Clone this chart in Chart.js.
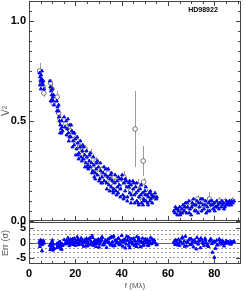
<!DOCTYPE html>
<html>
<head>
<meta charset="utf-8">
<script src="https://cdn.jsdelivr.net/npm/chart.js@4"></script>
<style>
  body { margin: 0; background: #fff; }
  #wrap { position: relative; width: 246px; height: 291px; }
  canvas { position: absolute; left: 0; }
</style>
</head>
<body>
<div id="wrap">
  <canvas id="topChart" width="246" height="230" style="top:0"></canvas>
  <canvas id="errChart" width="246" height="70" style="top:221px"></canvas>
</div>
<script>
// ===============================
// DATA
// ===============================
const starName = "HD98922";

// spatial frequency (Mlambda) of model points, also used for residuals
const modelX = [
  4.5,4.8,5.0,5.2,5.5,5.8,6.0,6.2,6.5,
  9.0,9.2,9.5,9.8,10.0,10.3,10.5,10.8,
  12.0,12.3,12.6,12.9,13.2,13.5,13.8,14.0,14.3,
  16,16.5,17,17.5,18,18.5,19,19.5,20,20.5,21,21.5,22,22.5,23,23.5,24,24.5,25,25.5,
  26,26.5,27,27.5,28,28.5,29,29.5,30,30.5,31,31.5,32,32.5,33,33.5,34,34.5,35,35.5,
  36,36.5,37,37.5,38,38.5,39,39.5,40,40.5,41,41.5,42,42.5,43,43.5,44,44.5,45,45.5,
  46,46.5,47,47.5,48,48.5,49,49.5,50,50.5,51,51.5,52,52.5,53,53.5,54,55,
  17.2,19.2,21.2,23.2,25.2,26.2,28.2,29.2,31.2,33.2,35.2,36.2,38.2,39.2,41.2,42.2,
  43.2,44.2,45.2,46.2,47.2,48.2,49.2,50.2,51.2,52.2,
  62.5,63,63.5,64,64.5,65,65.5,66,66.5,67,67.5,68,68.5,69,69.5,70,70.5,71,71.5,72,
  72.5,73,73.5,74,74.5,75,75.5,76,76.5,77,77.5,78,78.5,79,79.5,80,80.5,81,81.5,82,
  82.5,83,83.5,84,84.5,85,85.5,86,86.5,87,87.5,88,
  15.2,15.6,16.2,16.8,17.4,18.2,18.8,19.6,20.2,20.8,21.4,22.2,22.8,23.6,24.2,24.8,
  25.6,26.4,27.2,27.8,28.6,29.4,30.2,30.8,31.6,32.4,33.6,34.2,34.8,35.6,36.4,37.2,
  37.8,38.6,39.4,40.2,40.8,41.6,42.4,43.4,44.0,44.8,45.6,46.4,47.4,48.4,49.4,50.4,
  51.4,52.4,53.2,54.4,55.2,
  4.7,5.1,5.6,9.4,10.1,10.6,12.1,12.8,13.4,14.1,14.5,
  63.2,64.2,65.2,66.2,67.2,68.2,69.2,70.2,71.2,72.2,73.2,74.2,75.2,76.2,77.2,78.2,
  79.2,80.2,81.2,82.2,83.2,84.2,85.2,86.2,87.2,88.5
];
const modelV2 = [
  .74,.72,.70,.73,.71,.69,.68,.70,.66,
  .70,.67,.65,.63,.61,.62,.60,.58,
  .60,.57,.55,.52,.50,.48,.46,.44,.47,
  .50,.46,.44,.48,.42,.45,.40,.38,.41,.36,.39,.34,.37,.32,.35,.31,.33,.29,.32,.28,
  .30,.27,.29,.25,.28,.24,.26,.23,.27,.21,.25,.22,.24,.20,.23,.19,.22,.18,.21,.17,
  .20,.16,.19,.15,.20,.14,.18,.16,.21,.13,.19,.15,.20,.12,.17,.14,.18,.11,.16,.13,
  .17,.10,.15,.12,.16,.09,.14,.11,.15,.10,.13,.12,.14,.11,.13,.12,.12,.11,
  .40,.44,.33,.38,.27,.33,.22,.29,.19,.26,.23,.15,.17,.21,.12,.17,
  .19,.13,.19,.14,.09,.13,.08,.13,.09,.10,
  .05,.04,.06,.03,.05,.07,.04,.06,.08,.05,.09,.04,.07,.10,.06,.03,.09,.11,.05,.08,
  .10,.04,.07,.09,.05,.11,.06,.08,.04,.07,.09,.05,.08,.10,.06,.09,.07,.10,.08,.06,
  .09,.07,.08,.09,.07,.08,.09,.08,.10,.09,.10,.09,
  .52,.47,.43,.51,.42,.48,.37,.44,.33,.42,.31,.40,.30,.37,.27,.35,
  .26,.34,.24,.32,.21,.30,.20,.29,.19,.27,.16,.26,.15,.24,.14,.23,
  .13,.22,.12,.23,.11,.21,.10,.20,.09,.20,.09,.19,.08,.18,.10,.17,
  .08,.15,.09,.14,.12,
  .68,.66,.75,.60,.66,.63,.55,.58,.44,.50,.45,
  .07,.06,.03,.04,.07,.09,.04,.07,.08,.05,.09,.11,.08,.10,.05,.10,
  .08,.05,.07,.09,.10,.06,.10,.09,.08,.10
];

// observed visibilities with error bars
const obsX = [
  4.6,5.3,6.1,6.4,9.3,9.9,10.4,12.2,12.8,13.4,14.1,16.2,17.8,19.0,20.8,21.8,23.0,24.2,
  25.0,26.8,27.8,29.0,30.2,31.8,33.0,34.2,35.2,36.8,38.0,39.5,41.0,42.5,43.8,45.8,47.0,
  48.0,49.3,49.5,50.8,52.5,54.0,
  63.2,65.2,66.8,68.2,69.8,71.2,72.8,74.2,75.8,77.9,79.2,80.8,82.2,84.6,86.2,87.8
];
const obsV2 = [
  .75,.70,.67,.64,.69,.66,.59,.62,.54,.51,.49,.47,.45,.43,.40,.37,.33,.36,
  .30,.33,.26,.30,.24,.26,.21,.24,.19,.22,.16,.19,.22,.18,.15,.46,.18,
  .12,.30,.195,.14,.13,.12,
  .05,.04,.07,.05,.09,.07,.11,.06,.09,.11,.07,.08,.10,.097,.09,.10
];
const obsErr = [
  .04,.02,.02,.02,.02,.03,.02,.03,.02,.02,.02,.02,.03,.02,.03,.02,.03,.02,
  .02,.03,.02,.02,.03,.02,.03,.02,.03,.02,.02,.03,.03,.02,.02,.19,.03,
  .02,.075,.02,.02,.02,.02,
  .01,.01,.02,.02,.02,.02,.02,.02,.02,.035,.02,.02,.02,.02,.02,.02
];

// residuals in sigma, one per model point
const residual = [
  0.5,-0.3,1.0,0.2,-0.6,0.4,-0.2,0.8,0.0,
  -0.8,-2.2,-1.5,0.3,-1.0,-2.4,-0.4,-1.8,
  -1.6,-0.6,-1.1,0.2,-1.4,-0.5,-2.0,-0.9,-0.3,
  0.5,-0.2,0.9,0.3,1.2,-0.4,0.6,1.5,-0.8,0.2,
  1.0,-0.3,0.7,1.6,-0.5,0.4,1.1,-1.0,0.8,0.0,
  1.4,-0.6,0.3,1.8,-0.2,0.9,-1.2,0.5,1.3,-0.4,
  0.6,2.0,-0.7,0.2,1.1,-1.5,0.8,0.1,1.7,-0.3,
  0.4,2.3,-0.9,1.0,0.0,1.5,-0.6,0.7,2.5,-1.1,
  0.3,1.2,-0.4,0.9,1.9,-1.6,0.5,0.0,1.4,-0.8,
  0.6,2.1,-0.3,1.0,-1.3,0.4,1.6,-0.5,0.8,0.1,
  1.2,-0.9,0.5,1.8,-0.2,0.3,1.0,-0.6,
  0.7,-0.5,1.3,0.2,-1.0,1.6,0.4,-0.2,1.1,0.6,
  -0.7,1.9,0.3,-0.4,1.0,2.2,-0.9,0.5,1.5,-0.3,
  0.8,-1.2,0.2,1.3,-0.6,0.4,
  0.3,-0.5,0.8,0.0,1.2,-0.8,0.4,1.6,-0.3,0.6,
  2.2,-1.0,0.2,1.0,-0.6,1.4,0.5,-1.3,0.9,0.1,
  1.8,-0.4,0.7,-1.6,1.1,0.3,-0.9,1.5,0.0,-0.5,
  -1.2,0.6,1.3,-0.2,0.4,-4.8,-1.8,0.9,-0.7,1.2,
  0.3,-0.4,0.8,0.1,-0.2,0.6,0.0,0.4,-0.3,0.5,
  0.2,0.3,
  1.1,-0.4,0.6,1.7,-0.9,0.2,1.3,-0.2,0.8,2.0,
  -0.6,0.5,1.2,-1.1,0.3,1.5,-0.3,0.9,2.4,-0.8,
  0.1,1.0,-1.4,0.6,1.8,-0.5,0.4,1.3,-0.1,2.1,
  -1.0,0.7,0.0,1.6,-0.6,0.5,1.1,-1.7,0.9,0.2,
  1.4,-0.4,0.8,-1.2,1.7,0.3,-0.8,1.0,0.5,-0.3,
  1.2,0.1,-0.5,
  -1.2,0.7,-2.6,-0.5,0.9,-1.9,-0.2,-1.3,0.4,-2.1,-0.8,
  1.0,-0.7,0.5,1.9,-1.1,0.3,1.3,-0.4,0.8,-2.0,
  0.6,1.6,-0.2,0.9,-0.9,1.1,-3.1,0.4,-0.6,1.2,
  0.2,-1.0,0.7,0.3,-0.4,0.5
];

// axis ticks and reference lines
const freqTicks = [0, 20, 40, 60, 80];
const v2Ticks = [0, 0.5, 1.0];
const errTicks = [-5, 0, 5];
const errLines = [-4.5, -3, -1.5, 1.5, 3, 4.5];

const FONT = "'Liberation Sans', Arial, sans-serif";
const AXIS = "#444";

// stop Chart.js from adding room for the end tick labels
function noPad(s){
  s.paddingTop = 0; s.paddingBottom = 0;
  s.paddingLeft = 0; s.paddingRight = 0;
}


// ===============================
// PLUGINS
// ===============================
// box round the plot with inward ticks (IDL look)
const framePlugin = {
  id: "frame",
  afterDatasetsDraw(chart, args, opts){
    const ctx = chart.ctx;
    const a = chart.chartArea;
    const xs = chart.scales.x;
    const ys = chart.scales.y;
    ctx.save();
    ctx.strokeStyle = AXIS;
    ctx.lineWidth = 1;
    ctx.strokeRect(a.left + 0.5, a.top + 0.5, a.right - a.left - 1, a.bottom - a.top - 1);

    ctx.beginPath();
    for(let i = 0; i * opts.xMinor <= xs.max + 1e-9; i++){
      let v = i * opts.xMinor;
      let len = (Math.round(v * 1000) % Math.round(opts.xMajor * 1000) === 0) ? 5 : 3;
      let px = Math.round(xs.getPixelForValue(v)) + 0.5;
      if(opts.xBottom){ ctx.moveTo(px, a.bottom); ctx.lineTo(px, a.bottom - len); }
      if(opts.xTop){ ctx.moveTo(px, a.top); ctx.lineTo(px, a.top + len); }
    }
    let start = Math.ceil(ys.min / opts.yMinor - 1e-9);
    for(let i = start; i * opts.yMinor <= ys.max + 1e-9; i++){
      let v = i * opts.yMinor;
      let len = (Math.round(v * 1000) % Math.round(opts.yMajor * 1000) === 0) ? 5 : 3;
      let py = Math.round(ys.getPixelForValue(v)) + 0.5;
      ctx.moveTo(a.left, py); ctx.lineTo(a.left + len, py);
      ctx.moveTo(a.right, py); ctx.lineTo(a.right - len, py);
    }
    ctx.stroke();

    if(opts.label){
      ctx.fillStyle = "#000";
      ctx.font = "bold 7px " + FONT;
      ctx.textAlign = "center";
      ctx.textBaseline = "middle";
      ctx.fillText(opts.label, a.right - 38, a.top + 9);
    }
    ctx.restore();
  }
};

// vertical error bars for the observed points
const errorBarPlugin = {
  id: "errorBars",
  beforeDatasetsDraw(chart){
    const ctx = chart.ctx;
    const xs = chart.scales.x;
    const ys = chart.scales.y;
    ctx.save();
    ctx.strokeStyle = "#9a9a9a";
    ctx.lineWidth = 1;
    ctx.beginPath();
    for(let i = 0; i < obsX.length; i++){
      let px = Math.round(xs.getPixelForValue(obsX[i])) + 0.5;
      ctx.moveTo(px, ys.getPixelForValue(obsV2[i] - obsErr[i]));
      ctx.lineTo(px, ys.getPixelForValue(obsV2[i] + obsErr[i]));
    }
    ctx.stroke();
    ctx.restore();
  }
};

// dashed sigma lines + zero line in the residual panel
const refLinePlugin = {
  id: "refLines",
  beforeDatasetsDraw(chart){
    const ctx = chart.ctx;
    const a = chart.chartArea;
    const ys = chart.scales.y;
    ctx.save();
    ctx.lineWidth = 1;
    ctx.strokeStyle = "#9a9a9a";
    ctx.setLineDash([2, 2]);
    errLines.forEach(v => {
      let py = Math.round(ys.getPixelForValue(v)) + 0.5;
      ctx.beginPath();
      ctx.moveTo(a.left, py);
      ctx.lineTo(a.right, py);
      ctx.stroke();
    });
    ctx.setLineDash([]);
    ctx.strokeStyle = "#666";
    let p0 = Math.round(ys.getPixelForValue(0)) + 0.5;
    ctx.beginPath();
    ctx.moveTo(a.left, p0);
    ctx.lineTo(a.right, p0);
    ctx.stroke();
    ctx.restore();
  }
};


// ===============================
// TOP PANEL: V2 vs frequency
// ===============================
new Chart(document.getElementById("topChart").getContext("2d"), {
  type: "scatter",
  data: {
    datasets: [
      {
        label: "model",
        data: modelX.map((x, i) => ({ x: x, y: modelV2[i] })),
        pointStyle: "triangle",
        pointRadius: 1.8,
        backgroundColor: "#0000ff",
        borderColor: "#0000ff",
        borderWidth: 1,
        order: 0
      },
      {
        label: "observed",
        data: obsX.map((x, i) => ({ x: x, y: obsV2[i] })),
        pointStyle: "circle",
        pointRadius: 2.3,
        backgroundColor: "#ffffff",
        borderColor: "#555",
        borderWidth: 0.8,
        order: 1
      }
    ]
  },
  options: {
    responsive: false,
    animation: false,
    devicePixelRatio: 1,
    layout: { autoPadding: false, padding: { top: 1, right: 5, bottom: 9, left: 0 } },
    plugins: {
      legend: { display: false },
      tooltip: { enabled: false },
      frame: { xMinor: 5, xMajor: 20, yMinor: 0.05, yMajor: 0.5, xTop: true, xBottom: true, label: starName }
    },
    scales: {
      x: { type: "linear", min: 0, max: 91.5, display: false },
      y: {
        min: 0, max: 1.1,
        afterFit(s){ s.width = 29; noPad(s); },
        afterBuildTicks(s){ s.ticks = v2Ticks.map(v => ({ value: v })); },
        grid: { display: false, drawTicks: false },
        border: { display: false },
        ticks: {
          padding: 3,
          color: "#000",
          font: { family: FONT, size: 11, weight: "bold" },
          callback: v => v.toFixed(1)
        },
        title: {
          display: true, text: "V²", color: "#555", padding: { top: 0, bottom: 0 },
          font: { family: FONT, size: 10 }
        }
      }
    }
  },
  plugins: [errorBarPlugin, framePlugin]
});


// ===============================
// BOTTOM PANEL: residuals
// ===============================
new Chart(document.getElementById("errChart").getContext("2d"), {
  type: "scatter",
  data: {
    datasets: [{
      label: "residual",
      data: modelX.map((x, i) => ({ x: x, y: residual[i] })),
      pointStyle: "triangle",
      pointRadius: 1.8,
      backgroundColor: "#0000ff",
      borderColor: "#0000ff",
      borderWidth: 1
    }]
  },
  options: {
    responsive: false,
    animation: false,
    devicePixelRatio: 1,
    layout: { autoPadding: false, padding: { top: 1, right: 5, bottom: 0, left: 0 } },
    plugins: {
      legend: { display: false },
      tooltip: { enabled: false },
      frame: { xMinor: 5, xMajor: 20, yMinor: 5, yMajor: 5, xTop: false, xBottom: true }
    },
    scales: {
      x: {
        type: "linear", min: 0, max: 91.5,
        afterFit(s){ s.height = 27; noPad(s); },
        afterBuildTicks(s){ s.ticks = freqTicks.map(v => ({ value: v })); },
        grid: { display: false, drawTicks: false },
        border: { display: false },
        ticks: {
          padding: 3, maxRotation: 0,
          color: "#000",
          font: { family: FONT, size: 11, weight: "bold" }
        },
        title: {
          display: true, text: "f (Mλ)", color: "#555", padding: { top: 0, bottom: 0 },
          font: { family: FONT, size: 8 }
        }
      },
      y: {
        min: -7, max: 7,
        afterFit(s){ s.width = 29; noPad(s); },
        afterBuildTicks(s){ s.ticks = errTicks.map(v => ({ value: v })); },
        grid: { display: false, drawTicks: false },
        border: { display: false },
        ticks: {
          padding: 3,
          color: "#000",
          font: { family: FONT, size: 11, weight: "bold" }
        },
        title: {
          display: true, text: "Err (σ)", color: "#555", padding: { top: 0, bottom: 0 },
          font: { family: FONT, size: 9 }
        }
      }
    }
  },
  plugins: [refLinePlugin, framePlugin]
});
</script>
</body>
</html>
